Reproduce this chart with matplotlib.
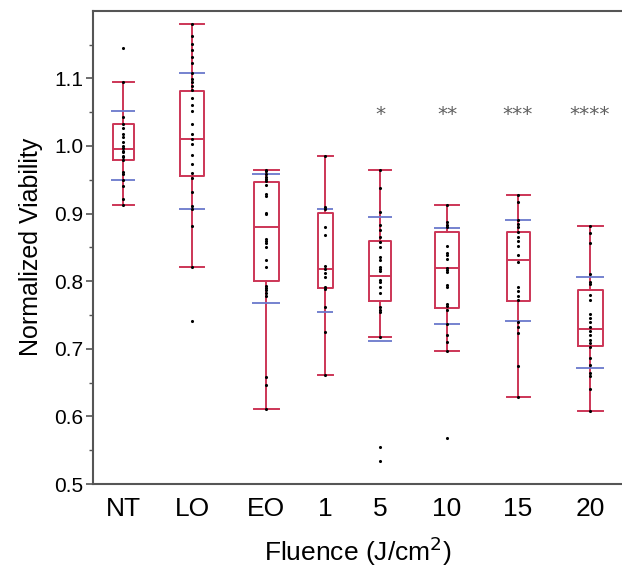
"""
Normalized viability vs fluence -- box plots with individual points.
"""
import matplotlib
matplotlib.use("Agg")
import matplotlib.pyplot as plt
import numpy as np

plt.rcParams["font.family"] = ["Liberation Sans", "DejaVu Sans"]

# ── Data ───────────────────────────────────────────────────────────────────────
groups = ["NT", "LO", "EO", "1", "5", "10", "15", "20"]

# box stats: lower whisker, Q1, median, Q3, upper whisker
whislo = [0.912, 0.821, 0.611, 0.661, 0.718, 0.697, 0.628, 0.608]
q1     = [0.979, 0.955, 0.800, 0.790, 0.771, 0.761, 0.770, 0.704]
median = [0.995, 1.010, 0.880, 0.818, 0.807, 0.820, 0.831, 0.729]
q3     = [1.033, 1.081, 0.946, 0.901, 0.859, 0.872, 0.872, 0.787]
whishi = [1.095, 1.181, 0.965, 0.985, 0.964, 0.912, 0.927, 0.882]

# blue marks (mean - SD, mean + SD)
sd_lo = [0.949, 0.907, 0.767, 0.755, 0.711, 0.737, 0.741, 0.671]
sd_hi = [1.052, 1.108, 0.958, 0.907, 0.895, 0.878, 0.890, 0.806]

# individual observations
pts_nt = [1.145, 1.095, 1.043, 1.032, 1.027, 1.018, 1.013, 1.006, 1.000, 0.997,
          0.992, 0.991, 0.985, 0.983, 0.979, 0.961, 0.958, 0.949, 0.940, 0.921, 0.912]
pts_lo = [1.181, 1.162, 1.151, 1.142, 1.132, 1.123, 1.108, 1.099, 1.094, 1.088,
          1.082, 1.071, 1.061, 1.052, 1.033, 1.017, 1.010, 1.003, 0.986, 0.973,
          0.960, 0.953, 0.932, 0.911, 0.907, 0.882, 0.821, 0.741]
pts_eo = [0.965, 0.963, 0.959, 0.954, 0.951, 0.948, 0.942, 0.929, 0.926, 0.901,
          0.899, 0.863, 0.860, 0.857, 0.851, 0.832, 0.821, 0.793, 0.790, 0.787,
          0.783, 0.778, 0.658, 0.647, 0.611]
pts_1 = [0.985, 0.910, 0.906, 0.880, 0.868, 0.822, 0.818, 0.812, 0.806, 0.792,
         0.788, 0.762, 0.725, 0.661]
pts_5 = [0.964, 0.938, 0.903, 0.883, 0.875, 0.866, 0.858, 0.851, 0.836, 0.831,
         0.821, 0.818, 0.815, 0.802, 0.799, 0.792, 0.782, 0.762, 0.758, 0.755,
         0.718, 0.555, 0.534]
pts_10 = [0.912, 0.887, 0.883, 0.880, 0.852, 0.841, 0.838, 0.833, 0.820, 0.817,
          0.814, 0.794, 0.792, 0.766, 0.763, 0.757, 0.737, 0.720, 0.710, 0.697,
          0.568]
pts_15 = [0.927, 0.917, 0.890, 0.884, 0.880, 0.872, 0.865, 0.859, 0.852, 0.839,
          0.828, 0.792, 0.786, 0.778, 0.772, 0.740, 0.732, 0.724, 0.674, 0.628]
pts_20 = [0.882, 0.871, 0.856, 0.811, 0.799, 0.796, 0.779, 0.772, 0.752, 0.745,
          0.740, 0.732, 0.726, 0.720, 0.713, 0.708, 0.703, 0.686, 0.676, 0.664,
          0.659, 0.641, 0.608]
points = [pts_nt, pts_lo, pts_eo, pts_1, pts_5, pts_10, pts_15, pts_20]

stars = ["", "", "", "", "*", "**", "***", "****"]
star_level = 1.038

# ── Layout ─────────────────────────────────────────────────────────────────────
X_POS  = [30, 99, 173, 232, 287, 354, 425, 497]
WIDTHS = [21, 24, 25, 15, 22, 24, 23, 25]

BOX_COLOR = "#cc3556"
SD_COLOR  = "#6a78cc"
AXIS_COLOR = "#555555"

fig = plt.figure(figsize=(6.22, 5.75), dpi=100)
ax = fig.add_axes([93 / 622, 1 - 484 / 575, 1 - 93 / 622, (484 - 10.7) / 575])

stats = [
    {"whislo": lo, "q1": a, "med": m, "q3": b, "whishi": hi, "fliers": []}
    for lo, a, m, b, hi in zip(whislo, q1, median, q3, whishi)
]
line_kw = dict(color=BOX_COLOR, linewidth=1.4)
ax.bxp(stats, positions=X_POS, widths=WIDTHS, showfliers=False,
       boxprops=line_kw, medianprops=line_kw, whiskerprops=line_kw,
       capprops=line_kw, capwidths=WIDTHS, manage_ticks=False)

for x, w, lo, hi in zip(X_POS, WIDTHS, sd_lo, sd_hi):
    ax.hlines([lo, hi], x - w * 0.55, x + w * 0.55, color=SD_COLOR, linewidth=1.3, zorder=3)

for x, vals in zip(X_POS, points):
    ax.scatter([x] * len(vals), vals, s=5, color="black", zorder=4, linewidths=0)

# significance marks
for x, s in zip(X_POS, stars):
    if s:
        ax.text(x, star_level, s, ha="center", va="baseline", fontsize=14.5,
                color="#606060", family="DejaVu Sans")

ax.set_xlim(0, 529)
ax.set_ylim(0.5, 1.2)
ax.set_xticks(X_POS)
ax.set_xticklabels(groups, fontsize=19)
ax.tick_params(axis="x", length=0, pad=9)
ax.set_yticks(np.arange(0.5, 1.11, 0.1))
ax.set_yticks(np.arange(0.55, 1.2, 0.1), minor=True)
ax.yaxis.set_major_formatter(plt.FormatStrFormatter("%.1f"))
ax.tick_params(axis="y", which="major", length=5, pad=2, labelsize=15,
               color=AXIS_COLOR, width=1.2)
ax.tick_params(axis="y", which="minor", length=3, color=AXIS_COLOR, width=1.0)

for side in ["left", "bottom", "top"]:
    ax.spines[side].set_color(AXIS_COLOR)
    ax.spines[side].set_linewidth(1.5)
ax.spines["right"].set_visible(False)

ax.set_ylabel("Normalized Viability", fontsize=18, labelpad=8)
ax.set_xlabel("Fluence (J/cm$^2$)", fontsize=19, labelpad=10)

fig.savefig("out.png", dpi=100)
